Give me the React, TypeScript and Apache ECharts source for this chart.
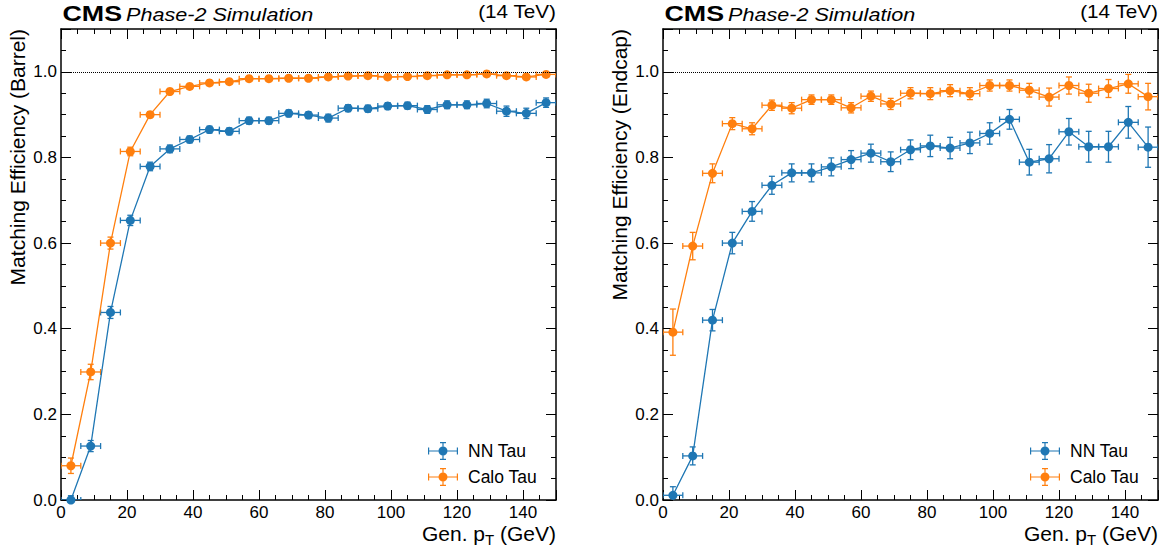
import React, { useEffect, useRef } from 'react';
import * as echarts from 'echarts';

// ---------- data ----------
const ptCenters = [3, 9, 15, 21, 27, 33, 39, 45, 51, 57, 63, 69, 75, 81, 87, 93, 99, 105, 111, 117, 123, 129, 135, 141, 147];
const binHalfWidth = 3;

const barrelNN = [0.0, 0.126, 0.438, 0.653, 0.779, 0.82, 0.842, 0.865, 0.861, 0.886, 0.886, 0.903, 0.899, 0.892, 0.915, 0.914, 0.92, 0.921, 0.912, 0.923, 0.923, 0.926, 0.908, 0.903, 0.928];
const barrelNNErr = [0.01, 0.013, 0.014, 0.012, 0.01, 0.009, 0.008, 0.008, 0.008, 0.008, 0.008, 0.008, 0.008, 0.009, 0.008, 0.008, 0.008, 0.008, 0.009, 0.009, 0.009, 0.01, 0.012, 0.012, 0.011];
const barrelCalo = [0.08, 0.299, 0.6, 0.814, 0.9, 0.954, 0.966, 0.974, 0.977, 0.984, 0.984, 0.985, 0.985, 0.988, 0.99, 0.991, 0.988, 0.989, 0.991, 0.993, 0.993, 0.995, 0.991, 0.988, 0.994];
const barrelCaloErr = [0.018, 0.018, 0.014, 0.01, 0.007, 0.005, 0.004, 0.004, 0.004, 0.003, 0.003, 0.003, 0.003, 0.003, 0.003, 0.003, 0.003, 0.003, 0.003, 0.003, 0.003, 0.003, 0.004, 0.004, 0.004];

const endcapNN = [0.011, 0.103, 0.42, 0.6, 0.674, 0.735, 0.764, 0.764, 0.778, 0.795, 0.81, 0.79, 0.818, 0.827, 0.822, 0.834, 0.856, 0.889, 0.789, 0.797, 0.86, 0.825, 0.825, 0.882, 0.824];
const endcapNNErr = [0.02, 0.021, 0.025, 0.025, 0.023, 0.021, 0.021, 0.021, 0.021, 0.021, 0.021, 0.023, 0.023, 0.025, 0.025, 0.025, 0.025, 0.023, 0.03, 0.033, 0.031, 0.036, 0.036, 0.037, 0.047];
const endcapCalo = [0.392, 0.593, 0.763, 0.879, 0.867, 0.922, 0.915, 0.935, 0.935, 0.916, 0.943, 0.925, 0.95, 0.949, 0.956, 0.949, 0.968, 0.968, 0.957, 0.941, 0.968, 0.95, 0.961, 0.972, 0.942];
const endcapCaloErr = [0.054, 0.032, 0.022, 0.014, 0.014, 0.012, 0.013, 0.011, 0.011, 0.012, 0.012, 0.013, 0.013, 0.014, 0.014, 0.014, 0.013, 0.013, 0.016, 0.021, 0.02, 0.021, 0.021, 0.022, 0.031];

const seriesNames = ['NN Tau', 'Calo Tau'];
const yTitles = ['Matching Efficiency (Barrel)', 'Matching Efficiency (Endcap)'];
const xMin = 0, xMax = 150, xMajor = 20, xMinor = 5;
const yMin = 0, yMax = 1.1, yMajor = 0.2, yMinor = 0.05;

// ---------- style ----------
const FONT = "'Liberation Sans', Arial, sans-serif";
const BLUE = '#1f77b4';
const ORANGE = '#ff7f0e';
const GRIDS = [
  { left: 61, top: 29, width: 495, height: 471 },
  { left: 663, top: 29, width: 495, height: 471 },
];
// all sub-paths drawn clockwise so the nonzero fill leaves no holes
const LEGEND_ICON =
  'path://M0,8.4H30V9.6H0Z M0,5.5H1.2V12.5H0Z M28.8,5.5H30V12.5H28.8Z M14.4,0H15.6V18H14.4Z M12,0H18V1.2H12Z M12,16.8H18V18H12Z M10.5,9A4.5,4.5 0 1,1 19.5,9A4.5,4.5 0 1,1 10.5,9Z';

function xAxesFor(g: number) {
  const base: any = {
    type: 'value', gridIndex: g, min: xMin, max: xMax,
    splitLine: { show: false },
    axisLine: { show: false, onZero: false },
  };
  const frame = { show: true, onZero: false, lineStyle: { color: '#000', width: 1.5 } };
  const majorTick = { show: true, inside: true, length: 10, lineStyle: { color: '#000', width: 1 } };
  const minorTick = { show: true, inside: true, length: 5, lineStyle: { color: '#000', width: 1 } };
  return [
    {
      ...base, position: 'bottom', interval: xMajor, axisLine: frame, axisTick: majorTick,
      axisLabel: {
        show: true, margin: 4, fontSize: 17, color: '#000', fontFamily: FONT,
        hideOverlap: false, showMinLabel: true, showMaxLabel: true,
        formatter: (v: number) => (Math.abs(v % xMajor) < 1e-9 ? String(v) : ''),
      },
    },
    { ...base, position: 'bottom', interval: xMinor, axisTick: minorTick, axisLabel: { show: false } },
    { ...base, position: 'top', interval: xMajor, axisLine: frame, axisTick: majorTick, axisLabel: { show: false } },
    { ...base, position: 'top', interval: xMinor, axisTick: minorTick, axisLabel: { show: false } },
  ];
}

function yAxesFor(g: number) {
  const base: any = {
    type: 'value', gridIndex: g, min: yMin, max: yMax,
    splitLine: { show: false },
    axisLine: { show: false, onZero: false },
  };
  const frame = { show: true, onZero: false, lineStyle: { color: '#000', width: 1.5 } };
  const majorTick = { show: true, inside: true, length: 10, lineStyle: { color: '#000', width: 1 } };
  const minorTick = { show: true, inside: true, length: 5, lineStyle: { color: '#000', width: 1 } };
  return [
    {
      ...base, position: 'left', interval: yMajor, axisLine: frame, axisTick: majorTick,
      axisLabel: {
        show: true, margin: 4, fontSize: 17, color: '#000', fontFamily: FONT,
        hideOverlap: false, showMinLabel: true, showMaxLabel: true,
        formatter: (v: number) => (Math.abs(v / yMajor - Math.round(v / yMajor)) < 1e-6 ? v.toFixed(1) : ''),
      },
    },
    { ...base, position: 'left', interval: yMinor, axisTick: minorTick, axisLabel: { show: false } },
    { ...base, position: 'right', interval: yMajor, axisLine: frame, axisTick: majorTick, axisLabel: { show: false } },
    { ...base, position: 'right', interval: yMinor, axisTick: minorTick, axisLabel: { show: false } },
  ];
}

function errorSeries(g: number, name: string, vals: number[], errs: number[], color: string) {
  return {
    type: 'custom', name: name + ' errors', xAxisIndex: 4 * g, yAxisIndex: 4 * g,
    data: ptCenters.map((x, i) => [x, vals[i], errs[i]]),
    encode: { x: 0, y: 1 },
    clip: true, silent: true, z: 2,
    renderItem: (params: any, api: any) => {
      const x = api.value(0), y = api.value(1), e = api.value(2);
      const l = api.coord([x - binHalfWidth, y]);
      const r = api.coord([x + binHalfWidth, y]);
      const t = api.coord([x, y + e]);
      const b = api.coord([x, y - e]);
      const c = 3;
      const style = { stroke: color, lineWidth: 1.3 };
      const ln = (x1: number, y1: number, x2: number, y2: number) => ({ type: 'line', shape: { x1, y1, x2, y2 }, style });
      return {
        type: 'group',
        children: [
          ln(l[0], l[1], r[0], r[1]),
          ln(l[0], l[1] - c, l[0], l[1] + c),
          ln(r[0], r[1] - c, r[0], r[1] + c),
          ln(t[0], t[1], b[0], b[1]),
          ln(t[0] - c, t[1], t[0] + c, t[1]),
          ln(b[0] - c, b[1], b[0] + c, b[1]),
        ],
      };
    },
  };
}

function lineSeries(g: number, name: string, vals: number[], color: string, withRef: boolean) {
  const s: any = {
    type: 'line', name, xAxisIndex: 4 * g, yAxisIndex: 4 * g,
    data: ptCenters.map((x, i) => [x, vals[i]]),
    symbol: 'circle', symbolSize: 9, clip: true, z: 3,
    lineStyle: { width: 1.3, color },
    itemStyle: { color, borderWidth: 0 },
    emphasis: { disabled: true },
  };
  if (withRef) {
    s.markLine = {
      silent: true, symbol: ['none', 'none'], label: { show: false },
      lineStyle: { type: 'dotted', color: '#000', width: 1 },
      emphasis: { disabled: true },
      data: [{ yAxis: 1 }],
    };
  }
  return s;
}

function legendFor(g: number) {
  return {
    orient: 'vertical', left: GRIDS[g].left + 362, top: 437,
    itemWidth: 30, itemHeight: 18, itemGap: 8, selectedMode: false,
    data: seriesNames.map((n) => ({ name: n, icon: LEGEND_ICON })),
    itemStyle: { borderWidth: 0 },
    textStyle: { fontSize: 17.5, fontFamily: FONT, color: '#000', padding: [0, 0, 0, 5] },
  };
}

function headerFor(g: number) {
  const left = GRIDS[g].left;
  const right = left + GRIDS[g].width;
  return [
    {
      type: 'text', x: left + 1.5, y: 13.2, scaleX: 1.22, silent: true,
      style: { text: 'CMS', fontSize: 22, fontWeight: 'bold', fontFamily: FONT, fill: '#000', align: 'left', verticalAlign: 'middle' },
    },
    {
      type: 'text', x: left + 65, y: 14.4, scaleX: 1.2, silent: true,
      style: { text: 'Phase-2 Simulation', fontSize: 18, fontStyle: 'italic', fontFamily: FONT, fill: '#000', align: 'left', verticalAlign: 'middle' },
    },
    {
      type: 'text', x: right, y: 11.6, scaleX: 1.15, silent: true,
      style: { text: '(14 TeV)', fontSize: 18, fontFamily: FONT, fill: '#000', align: 'right', verticalAlign: 'middle' },
    },
    {
      type: 'text', x: left - 43.5, y: GRIDS[g].top, rotation: Math.PI / 2, silent: true,
      style: { text: yTitles[g], fontSize: 21, fontFamily: FONT, fill: '#000', align: 'right', verticalAlign: 'middle' },
    },
    {
      type: 'text', x: right, y: 533.4, silent: true,
      style: {
        text: 'Gen. p{s|T} (GeV)', fontSize: 21, lineHeight: 28, fontFamily: FONT, fill: '#000',
        align: 'right', verticalAlign: 'middle',
        rich: { s: { fontSize: 15, lineHeight: 15, verticalAlign: 'bottom', fontFamily: FONT, fill: '#000' } },
      },
    },
  ];
}

const option: any = {
  animation: false,
  backgroundColor: '#fff',
  grid: GRIDS,
  xAxis: [...xAxesFor(0), ...xAxesFor(1)],
  yAxis: [...yAxesFor(0), ...yAxesFor(1)],
  legend: [legendFor(0), legendFor(1)],
  series: [
    errorSeries(0, seriesNames[0], barrelNN, barrelNNErr, BLUE),
    errorSeries(0, seriesNames[1], barrelCalo, barrelCaloErr, ORANGE),
    lineSeries(0, seriesNames[0], barrelNN, BLUE, true),
    lineSeries(0, seriesNames[1], barrelCalo, ORANGE, false),
    errorSeries(1, seriesNames[0], endcapNN, endcapNNErr, BLUE),
    errorSeries(1, seriesNames[1], endcapCalo, endcapCaloErr, ORANGE),
    lineSeries(1, seriesNames[0], endcapNN, BLUE, true),
    lineSeries(1, seriesNames[1], endcapCalo, ORANGE, false),
  ],
  graphic: [...headerFor(0), ...headerFor(1)],
};

export default function App() {
  const ref = useRef<HTMLDivElement>(null);
  useEffect(() => {
    if (!ref.current) return;
    const chart = echarts.init(ref.current, null, { renderer: 'svg' });
    chart.setOption(option);
    return () => chart.dispose();
  }, []);
  return <div ref={ref} style={{ position: 'absolute', left: 0, top: 0, width: 1175, height: 554 }} />;
}
